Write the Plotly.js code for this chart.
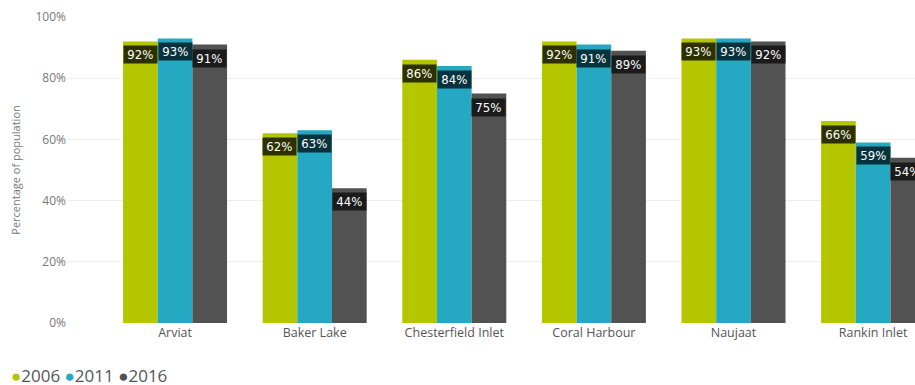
<!DOCTYPE html>
<html><head><meta charset="utf-8">
<script src="https://cdn.plot.ly/plotly-3.0.1.min.js"></script>
<style>html,body{margin:0;padding:0;background:#fff}#c{width:915px;height:385px}</style>
</head><body><div id="c"></div>
<script>
const categories = ["Arviat","Baker Lake","Chesterfield Inlet","Coral Harbour","Naujaat","Rankin Inlet"];
const years = ["2006","2011","2016"];
const v2006 = [0.92,0.62,0.86,0.92,0.93,0.66];
const v2011 = [0.93,0.63,0.84,0.91,0.93,0.59];
const v2016 = [0.91,0.44,0.75,0.89,0.92,0.54];
const colors = ["#B3C600","#25A8C1","#525252"];
const labelBg = ["rgba(34,38,0,0.93)","rgba(8,42,50,0.93)","rgba(24,24,24,0.95)"];
const series = [v2006,v2011,v2016];

const traces = series.map((vals,i)=>({type:"bar",x:categories,y:vals,name:years[i],
  marker:{color:colors[i],line:{width:0}},showlegend:false,hoverinfo:"none"}));

const annotations = [];
const barW = 34.7;
series.forEach((vals,i)=>{
  vals.forEach((v,j)=>{
    annotations.push({x:categories[j],y:v,xref:"x",yref:"y",xshift:(i-1)*barW,yshift:-4,
      yanchor:"top",xanchor:"center",showarrow:false,text:"\u2009"+Math.round(v*100)+"%\u2009",
      font:{family:"DejaVu Sans Condensed, Roboto, sans-serif",size:13,color:"#ffffff"},
      bgcolor:labelBg[i],borderpad:1});
  });
});
// legend as text
const legendText = years.map((y,i)=>"<span style='color:"+colors[i]+"'>●</span>"+y).join(" ");
annotations.push({xref:"paper",yref:"paper",x:-0.068,y:-0.173,xanchor:"left",yanchor:"middle",
  showarrow:false,text:legendText,font:{family:"Open Sans, Noto Sans, sans-serif",size:17,color:"#555"}});

const layout = {
  width:915,height:385,
  margin:{l:67,r:0,t:17,b:62},
  paper_bgcolor:"#fff",plot_bgcolor:"#fff",
  barmode:"group",bargap:0.255,bargroupgap:0,
  font:{family:"Open Sans, Noto Sans, sans-serif",color:"#666"},
  xaxis:{type:"category",range:[-0.774,5.30],showgrid:false,zeroline:false,showline:false,automargin:false,
    ticks:"",tickfont:{size:12.5,color:"#555"}},
  yaxis:{range:[0,1],dtick:0.2,tickformat:".0%",gridcolor:"#eeeeee",gridwidth:1,zeroline:false,automargin:false,
    ticks:"",ticklen:0,tickfont:{size:12,color:"#777"},
    title:{text:"Percentage of population",font:{size:11,color:"#777"},standoff:12}},
  annotations:annotations,
  showlegend:false
};
Plotly.newPlot("c",traces,layout,{staticPlot:true});
</script></body></html>
